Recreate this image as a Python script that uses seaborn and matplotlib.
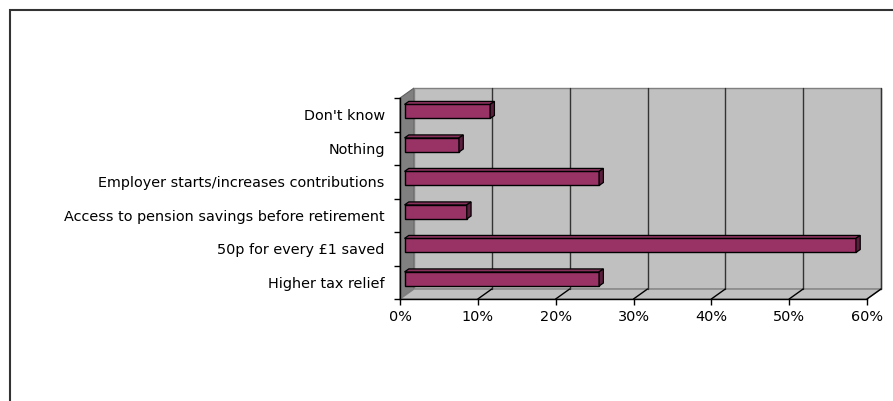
import matplotlib
matplotlib.use("Agg")
import matplotlib.pyplot as plt
from matplotlib.patches import Polygon, Rectangle
from matplotlib.lines import Line2D
from matplotlib.transforms import ScaledTranslation, IdentityTransform
import seaborn as sns
import pandas as pd

# Survey responses, listed top to bottom as shown on the chart
categories = [
    "Don't know",
    "Nothing",
    "Employer starts/increases contributions",
    "Access to pension savings before retirement",
    "50p for every \u00a31 saved",
    "Higher tax relief",
]
shares = [11, 7, 25, 8, 58, 25]
x_ticks = [0, 10, 20, 30, 40, 50, 60]
x_tick_labels = ["0%", "10%", "20%", "30%", "40%", "50%", "60%"]

df = pd.DataFrame({"answer": categories, "share": shares})

sns.set_style("white")
plt.rcParams["font.family"] = ["DejaVu Sans"]

W, H = 893, 401
DPI = 100
fig = plt.figure(figsize=(W / DPI, H / DPI), dpi=DPI)
fig.patch.set_facecolor("white")


def fig_xy(px, py):
    """Pixel position (from top-left) to figure fraction."""
    return (px / W, 1 - py / H)


# front plane of the pseudo-3D plot
left, right, top, bottom = 400, 867, 98, 299
ax = fig.add_axes([left / W, 1 - bottom / H, (right - left) / W, (bottom - top) / H])
ax.set_facecolor("none")

sns.barplot(data=df, x="share", y="answer", order=categories, orient="h",
            color="#993366", saturation=1, width=0.42,
            edgecolor="black", linewidth=1.0, ax=ax, zorder=3)

ax.set_xlim(x_ticks[0], x_ticks[-1])
ax.set_ylim(len(categories) - 0.5, -0.5)
ax.set_xlabel("")
ax.set_ylabel("")

for side in ["top", "right"]:
    ax.spines[side].set_visible(False)
for side in ["left", "bottom"]:
    ax.spines[side].set_color("black")
    ax.spines[side].set_linewidth(1.0)
    ax.spines[side].set_zorder(6)

label_size = 10.4
ax.set_xticks(x_ticks)
ax.set_xticklabels(x_tick_labels, fontsize=label_size)
ax.set_yticks(range(len(categories)))
ax.set_yticklabels(categories, fontsize=label_size)
ax.set_yticks([i - 0.5 for i in range(len(categories) + 1)], minor=True)
ax.tick_params(axis="x", which="major", length=4, width=1, color="black",
               direction="out", pad=4, bottom=True, labelcolor="black")
ax.tick_params(axis="y", which="major", length=0, pad=11, labelcolor="black")
ax.tick_params(axis="y", which="minor", length=4, width=1, color="black",
               direction="out", left=True)

# depth of the walls and of the bars, in pixels
wall_dx, wall_dy = 14, 10
bar_shift_x, bar_shift_y = 4.5, 3.3
bar_dx, bar_dy = 4.3, 3.0

to_fig = fig.transFigure


def data_px(x, y):
    """Data coordinate on the front plane to pixel position (from top-left)."""
    dx, dy = ax.transData.transform((x, y))
    return dx, H - dy


# walls: side, back and floor
x0_px, y_top_px = data_px(x_ticks[0], -0.5)
x1_px, y_bot_px = data_px(x_ticks[-1], len(categories) - 0.5)

side_wall = Polygon([fig_xy(x0_px, y_top_px), fig_xy(x0_px + wall_dx, y_top_px - wall_dy),
                     fig_xy(x0_px + wall_dx, y_bot_px - wall_dy), fig_xy(x0_px, y_bot_px)],
                    closed=True, transform=to_fig, facecolor="#808080",
                    edgecolor="#606060", linewidth=0.8, zorder=-2)
back_wall = Polygon([fig_xy(x0_px + wall_dx, y_top_px - wall_dy),
                     fig_xy(x1_px + wall_dx, y_top_px - wall_dy),
                     fig_xy(x1_px + wall_dx, y_bot_px - wall_dy),
                     fig_xy(x0_px + wall_dx, y_bot_px - wall_dy)],
                    closed=True, transform=to_fig, facecolor="#C0C0C0",
                    edgecolor="#808080", linewidth=1.0, zorder=-2)
floor = Polygon([fig_xy(x0_px, y_bot_px), fig_xy(x0_px + wall_dx, y_bot_px - wall_dy),
                 fig_xy(x1_px + wall_dx, y_bot_px - wall_dy), fig_xy(x1_px, y_bot_px)],
                closed=True, transform=to_fig, facecolor="#C0C0C0",
                edgecolor="#808080", linewidth=1.0, zorder=-2)
for p in (side_wall, back_wall, floor):
    fig.add_artist(p)

# gridlines on the back wall and their floor connectors
for v in x_ticks[1:]:
    gx, _ = data_px(v, 0)
    fig.add_artist(Line2D([gx / W + wall_dx / W] * 2,
                          [1 - (y_top_px - wall_dy) / H, 1 - (y_bot_px - wall_dy) / H],
                          transform=to_fig, color="#333333", linewidth=1.0, zorder=-1))
    fig.add_artist(Line2D([gx / W, (gx + wall_dx) / W],
                          [1 - y_bot_px / H, 1 - (y_bot_px - wall_dy) / H],
                          transform=to_fig, color="black", linewidth=1.0, zorder=-1))

# shift bars into the middle depth and add their top and side faces
shift = ScaledTranslation(bar_shift_x / DPI, bar_shift_y / DPI, fig.dpi_scale_trans)
bars = [p for p in ax.patches if isinstance(p, Rectangle) and p.get_width() > 0]
for bar in bars:
    bar.set_transform(ax.transData + shift)
    bar.set_clip_on(False)
    bx0, by0 = bar.get_x(), bar.get_y()
    bx1, by1 = bx0 + bar.get_width(), by0 + bar.get_height()
    # display coordinates (y up) of the front face corners
    (dl, dtop) = ax.transData.transform((bx0, min(by0, by1)))
    (dr, dbot) = ax.transData.transform((bx1, max(by0, by1)))
    dl += bar_shift_x
    dr += bar_shift_x
    dtop += bar_shift_y
    dbot += bar_shift_y
    top_face = Polygon([(dl, dtop), (dr, dtop), (dr + bar_dx, dtop + bar_dy),
                        (dl + bar_dx, dtop + bar_dy)], closed=True,
                       transform=IdentityTransform(), facecolor="#86305A",
                       edgecolor="black", linewidth=0.9, zorder=4, clip_on=False)
    side_face = Polygon([(dr, dbot), (dr + bar_dx, dbot + bar_dy),
                         (dr + bar_dx, dtop + bar_dy), (dr, dtop)], closed=True,
                        transform=IdentityTransform(), facecolor="#5C1E3D",
                        edgecolor="black", linewidth=0.9, zorder=4, clip_on=False)
    ax.add_artist(top_face)
    ax.add_artist(side_face)

# outer chart-area border
fig.add_artist(Rectangle(fig_xy(10, 420), 900 / W, 410 / H, transform=to_fig,
                         fill=False, edgecolor="#333333", linewidth=1.5, zorder=10,
                         clip_on=False))

fig.savefig("out.png", dpi=DPI, facecolor="white")
